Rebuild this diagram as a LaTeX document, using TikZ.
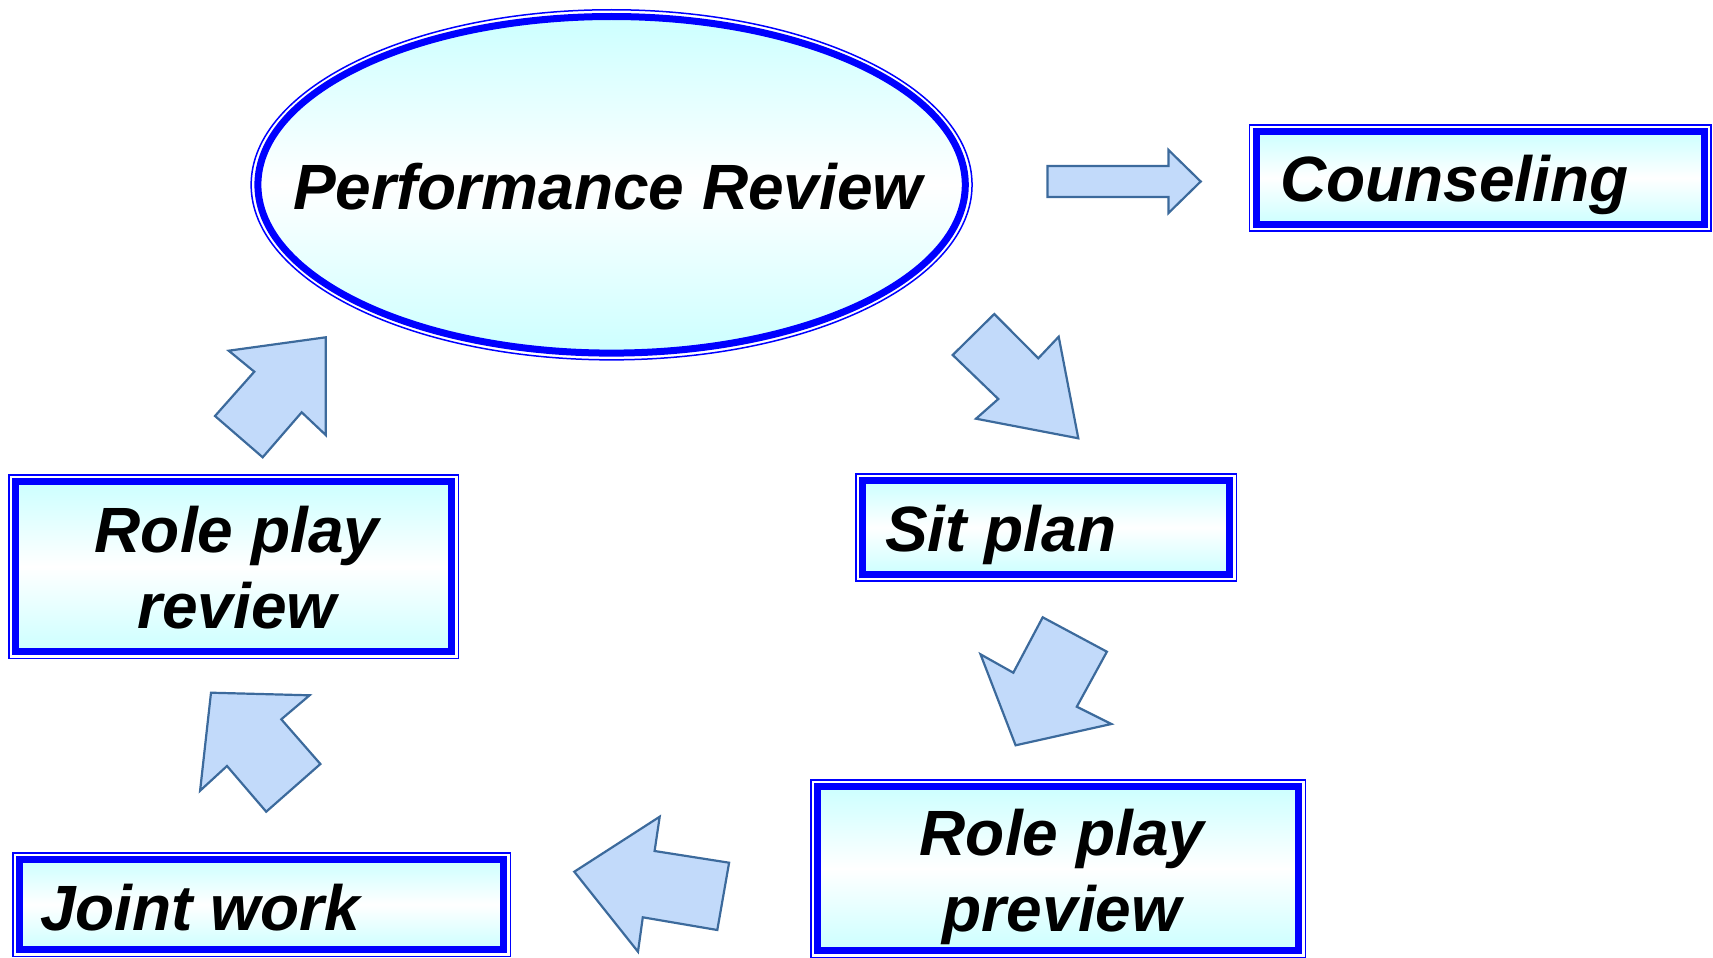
\documentclass[tikz,border=0pt]{standalone}
\usepackage{fontspec}
\setmainfont{Liberation Sans}
\usetikzlibrary{shapes.geometric}
\definecolor{cy}{RGB}{204,255,255}
\definecolor{frameblue}{RGB}{0,0,255}
\definecolor{arfill}{RGB}{194,218,250}
\definecolor{arline}{RGB}{60,106,156}
\begin{document}
\begin{tikzpicture}[x=1pt,y=-1pt,
  boxshape/.style={rectangle, draw=frameblue, line width=7pt, top color=cy, bottom color=cy, middle color=white, inner sep=0pt, outer sep=0pt},
  ovalshape/.style={ellipse, draw=frameblue, line width=7pt, top color=cy, bottom color=cy, middle color=white, inner sep=0pt, outer sep=0pt},
  thinframe/.style={draw=frameblue, line width=1.5pt},
  txt/.style={font=\fontsize{64}{76}\selectfont\bfseries\itshape, inner sep=0pt, text=black},
  blockarrow/.style={fill=arfill, draw=arline, line width=2.2pt, line join=miter}]
\useasboundingbox (0,0) rectangle (1713,958);
\clip (0,0) rectangle (1713,958);

% Performance Review ellipse
\node[ovalshape, minimum width=707.4pt, minimum height=336.6pt] (pr) at (611.6,184.8) {};
\draw[thinframe] (pr.center) ellipse [x radius=360.45, y radius=175.05];
\node[txt, anchor=base] (prt) at (608,209.5) {Performance Review};

% boxes
\node[boxshape, minimum width=448pt, minimum height=92.7pt] (co) at (1480.1,177.85) {};
\node[boxshape, minimum width=366.6pt, minimum height=93.4pt] (sp) at (1046.2,527.5) {};
\node[boxshape, minimum width=435.7pt, minimum height=170.3pt] (rr) at (233.65,566.65) {};
\node[boxshape, minimum width=481pt, minimum height=164pt] (rp) at (1058,868.5) {};
\node[boxshape, minimum width=484pt, minimum height=90pt] (jw) at (261.5,904.5) {};
\foreach \n in {co,sp,rr,rp,jw}{
  \draw[thinframe] ([xshift=-6.75pt,yshift=6.75pt]\n.north west) rectangle ([xshift=6.75pt,yshift=-6.75pt]\n.south east);
}

\node[txt, anchor=base west] (cot) at (1280,201) {Counseling};
\node[txt, anchor=base west] (spt) at (885,551.7) {Sit plan};
\node[txt, anchor=base, align=center] (rrt) at (237,628) {Role play\\review};
\node[txt, anchor=base, align=center] (rpt) at (1062,931.7) {Role play\\preview};
\node[txt, anchor=base west] (jwt) at (40,930) {Joint work};

% block arrows
\draw[blockarrow] (1047.4,166) -- (1168.5,166) -- (1168.5,150) -- (1200.7,181.5) -- (1168.5,213) -- (1168.5,197) -- (1047.4,197) -- cycle;
\draw[blockarrow] (994.3,314) -- (1038.3,358.3) -- (1058.7,336.7) -- (1078.3,438.3) -- (976,418.7) -- (998.3,399) -- (952.7,355) -- cycle;
\draw[blockarrow] (1042.7,617.3) -- (1106.9,651.7) -- (1076.8,706.7) -- (1111.3,724) -- (1015.6,745.3) -- (980.5,654.3) -- (1013.3,672.7) -- cycle;
\draw[blockarrow] (574.3,871.7) -- (659.7,816.7) -- (654.6,851) -- (729.1,862.7) -- (717.3,930) -- (642.8,917.3) -- (638,951.7) -- cycle;
\draw[blockarrow] (211,692.7) -- (309.6,695.3) -- (281.3,719.3) -- (320.4,764) -- (266.2,811.7) -- (227,766) -- (200.1,790.7) -- cycle;
\draw[blockarrow] (325.7,337.3) -- (325.7,435) -- (301.7,412.3) -- (262.7,457.3) -- (215,416) -- (254.3,371.7) -- (228.7,350.7) -- cycle;
\end{tikzpicture}
\end{document}
